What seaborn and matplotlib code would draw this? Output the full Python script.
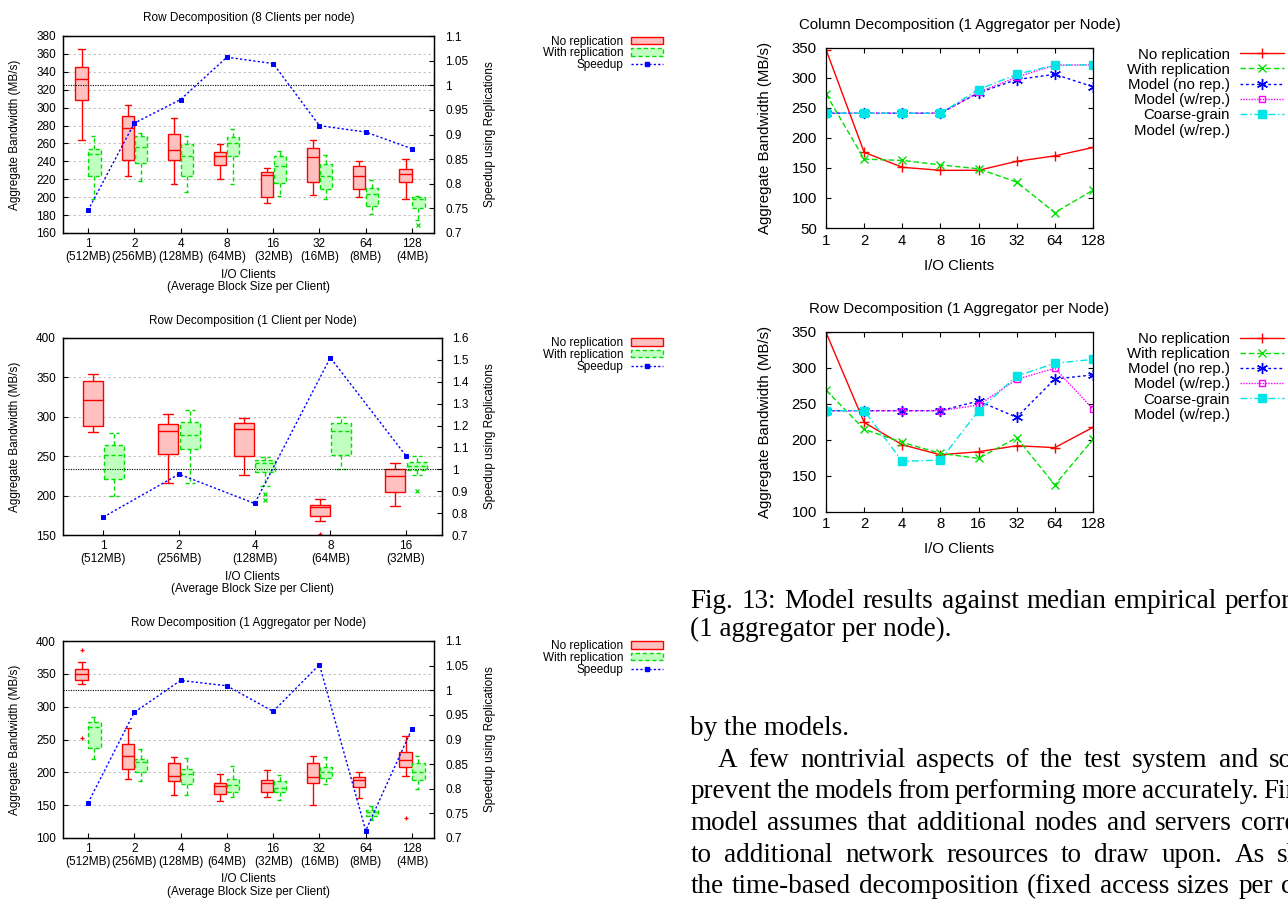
import numpy as np
import pandas as pd
import matplotlib
matplotlib.use("Agg")
import matplotlib.pyplot as plt
import seaborn as sns
from matplotlib.lines import Line2D
from matplotlib.patches import Patch
from matplotlib.ticker import FuncFormatter, FixedLocator, NullLocator

W, H = 1288, 899

# ---------------- data: box-plot charts (left column) ----------------
SERIES = ["No replication", "With replication"]
LAB8 = ["1\n(512MB)", "2\n(256MB)", "4\n(128MB)", "8\n(64MB)",
        "16\n(32MB)", "32\n(16MB)", "64\n(8MB)", "128\n(4MB)"]
LAB5 = ["1\n(512MB)", "2\n(256MB)", "4\n(128MB)", "8\n(64MB)", "16\n(32MB)"]

# (low whisker, Q1, median, Q3, high whisker)
a_norep = [(264, 309, 332, 345, 366), (224, 241, 277, 291, 303), (215, 241.5, 253, 270.5, 288),
           (220, 236, 246, 251, 259), (194, 200.6, 225, 228.5, 232.6), (202, 217, 244.5, 255, 264),
           (200, 209.5, 224, 235, 240), (198, 217, 226, 232, 243)]
a_norep_out = [[], [], [], [], [], [], [], []]
a_rep = [(198, 224, 248, 254, 268), (218, 238.5, 256, 268, 272), (206, 224, 246, 259, 268),
         (215, 245.6, 260, 267.6, 276.5), (201, 215.5, 235, 246, 252), (198, 209, 224, 237.4, 247.5),
         (181, 190.5, 203, 210.6, 219.5), (174, 188, 197.5, 200, 201)]
a_rep_out = [[], [], [], [], [], [], [], [169]]
a_speedup = [0.746, 0.923, 0.971, 1.057, 1.044, 0.918, 0.905, 0.871]

b_norep = [(281, 288, 321, 346, 354), (216, 252.6, 282, 290.6, 303), (225.6, 250, 284.7, 291.5, 298),
           (168.2, 173.5, 186, 187.6, 195.2), (186.7, 204, 224.7, 233.2, 240.8)]
b_norep_out = [[], [], [], [151], []]
b_rep = [(199, 220.5, 251, 263.6, 279), (215.5, 259, 276.7, 293.2, 308), (212, 229.8, 240.8, 245, 249.2),
         (233.6, 252, 282, 292, 300), (226, 232.8, 237.9, 242.5, 249.7)]
b_rep_out = [[], [], [202, 194], [], [205.4]]
b_speedup = [0.782, 0.978, 0.844, 1.510, 1.062]

c_norep = [(334.1, 340.2, 349.3, 357.9, 367.6), (189.7, 204.4, 225.2, 242.4, 268.2),
           (165.9, 187.1, 194.2, 214, 223.1), (156.8, 167.4, 178.5, 183.1, 197.3),
           (162.8, 169.4, 184.1, 187.6, 202.9), (149.7, 184.1, 192.7, 213.5, 224.6),
           (160.8, 178, 188.2, 192.7, 200.3), (194.7, 207.9, 218.6, 231.7, 255.6)]
c_norep_out = [[386.8, 252], [], [], [], [], [], [], [130.9]]
c_rep = [(220.1, 236.3, 268.7, 276.3, 284), (186.6, 200.3, 215, 219.6, 235.3),
         (164.8, 182.6, 197.3, 204.9, 221.1), (162.3, 169.9, 181.1, 189.2, 209.4),
         (157.8, 170.5, 176, 186.1, 195.8), (182.1, 191.2, 200.3, 207.4, 223.1),
         (126.8, 132.9, 139, 143.1, 148.1), (175, 188.2, 200.3, 213.5, 224.6)]
c_rep_out = [[], [], [], [], [], [], [], []]
c_speedup = [0.771, 0.955, 1.020, 1.009, 0.957, 1.052, 0.715, 0.922]

# ---------------- data: model charts (right column) ----------------
CLIENTS = [1, 2, 4, 8, 16, 32, 64, 128]
LINE_SERIES = ["No replication", "With replication", "Model (no rep.)", "Model (w/rep.)", "Coarse-grain"]
col_norep = [347, 176, 151, 146, 146, 161, 170, 184]
col_rep = [273, 164.6, 162.4, 155, 148.5, 126.4, 75.6, 113]
col_model_norep = [241, 241, 241, 241, 275, 297, 305.7, 285]
col_model_rep = [241, 241, 241, 241, 275.8, 301, 321, 321.5]
col_coarse = [241, 241, 241, 241, 280.3, 305.7, 321, 321.5]

row_norep = [349, 224, 193, 179, 183.3, 191.6, 189, 217.2]
row_rep = [269, 214.4, 196.3, 181, 174, 202.8, 137.1, 200.5]
row_model_norep = [240.3, 240.3, 240.3, 240.3, 253.7, 231, 284.3, 290]
row_model_rep = [240.3, 240.3, 240.3, 240.3, 248.1, 283.8, 299.2, 242.6]
row_coarse = [240.3, 240.3, 170, 171.7, 240.3, 288.4, 306.1, 311.6]

# ---------------- style ----------------
RED, GREEN, BLUE, MAG, CYAN = "#ff0000", "#00e000", "#0000ff", "#ff00ff", "#00e5e5"
PINK, LGREEN = "#ffc0c0", "#c0ffc0"
sns.set_theme(style="ticks", rc={"axes.edgecolor": "black", "text.color": "black",
                                 "xtick.color": "black", "ytick.color": "black",
                                 "axes.labelcolor": "black", "axes.linewidth": 0.9})
plt.rcParams["font.family"] = ["Liberation Sans", "DejaVu Sans"]

fig = plt.figure(figsize=(W / 100, H / 100), dpi=100)
fig.patch.set_facecolor("white")


def rect(x0, y0, x1, y1):
    return [x0 / W, 1 - y1 / H, (x1 - x0) / W, (y1 - y0) / H]


def fx(x):
    return x / W


def fy(y):
    return 1 - y / H


def sample(stats, outliers, k=20):
    lo, q1, med, q3, hi = stats
    return [lo] + [q1] * k + [med] * k + [q3] * k + [hi] + list(outliers)


def box_frame(labels, norep, norep_out, rep, rep_out):
    rows = []
    for lab, s, o in zip(labels, norep, norep_out):
        rows += [(lab, SERIES[0], v) for v in sample(s, o)]
    for lab, s, o in zip(labels, rep, rep_out):
        rows += [(lab, SERIES[1], v) for v in sample(s, o)]
    return pd.DataFrame(rows, columns=["clients", "series", "bw"])


def restyle_boxes(ax):
    for p in ax.patches:
        fc = p.get_facecolor()
        red = fc[0] > fc[1]
        p.set_edgecolor(RED if red else GREEN)
        p.set_linestyle("-" if red else (0, (3, 2)))
        p.set_linewidth(1.0)
    for ln in ax.lines:
        xd = np.asarray(ln.get_xdata(), dtype=float)
        if xd.size == 0:
            continue
        c = xd.mean()
        red = (c - np.round(c)) < 0
        col = RED if red else GREEN
        ln.set_color(col)
        if ln.get_linestyle() in ("None", "", " ", "none"):
            ln.set_marker("+" if red else "x")
            ln.set_markeredgecolor(col)
            ln.set_markerfacecolor(col)
            ln.set_markersize(3.5)
            ln.set_markeredgewidth(0.9)
        else:
            ln.set_linestyle("-" if red else (0, (3, 2)))
            ln.set_linewidth(1.0)


FS_L = 8.5


def box_chart(box, title, title_cy, labels, df, speed, ylim, yticks, y2lim, y2ticks,
              xlim, xlab_cy, y2pad, leg_top):
    x0, y0, x1, y1 = box
    ax = fig.add_axes(rect(*box))
    sns.boxplot(data=df, x="clients", y="bw", hue="series", order=labels, hue_order=SERIES,
                palette={SERIES[0]: PINK, SERIES[1]: LGREEN}, saturation=1, width=0.56, gap=0.06,
                whis=1.5, linewidth=1, fliersize=3, legend=False, ax=ax)
    restyle_boxes(ax)
    ax.set_ylim(*ylim)
    ax.set_yticks(yticks)
    ax.yaxis.grid(True, color="#b8b8b8", linestyle=(0, (3, 3)), linewidth=0.6)
    ax.set_axisbelow(True)
    ax.tick_params(axis="both", direction="in", length=3.5, width=0.8, labelsize=FS_L)
    ax.tick_params(axis="y", pad=5)
    ax.tick_params(axis="x", pad=3.5)
    ax.set_xlabel("I/O Clients\n(Average Block Size per Client)", fontsize=FS_L, linespacing=1.1)
    ax.set_ylabel("Aggregate Bandwidth (MB/s)", fontsize=FS_L)
    ax.set_title(title, fontsize=FS_L, y=1 + (y0 - title_cy) / (y1 - y0), va="center", pad=0)

    ax2 = ax.twinx()
    ax2.axhline(1.0, color="black", lw=0.8, ls=(0, (1, 1.2)), zorder=1)
    sns.pointplot(x=labels, y=speed, ax=ax2, color=BLUE, markers="s", linestyles=":",
                  markersize=2.4, linewidth=1, errorbar=None)
    for ln in ax2.lines:
        if ln.get_marker() == "s":
            ln.set_dashes((1.6, 1.6))
    ax2.set_ylim(*y2lim)
    ax2.set_yticks(y2ticks)
    ax2.yaxis.set_major_formatter(FuncFormatter(lambda v, p: f"{v:g}"))
    ax2.tick_params(axis="y", direction="in", length=3.5, width=0.8, labelsize=FS_L, pad=y2pad)
    ax2.set_ylabel("Speedup using Replications", fontsize=FS_L)
    ax.set_xlim(*xlim)

    for t in ax.xaxis.get_major_ticks():
        t.label1.set_linespacing(1.1)

    cy = (y0 + y1) / 2
    ax.yaxis.set_label_coords(fx(15.5), fy(cy), transform=fig.transFigure)
    ax.yaxis.label.set_va("center")
    ax2.yaxis.set_label_coords(fx(490), fy(cy), transform=fig.transFigure)
    ax2.yaxis.label.set_va("center")
    ax.xaxis.set_label_coords(fx((x0 + x1) / 2), fy(xlab_cy), transform=fig.transFigure)
    ax.xaxis.label.set_va("center")

    handles = [Patch(facecolor=PINK, edgecolor=RED, linewidth=1.0),
               Patch(facecolor=LGREEN, edgecolor=GREEN, linewidth=1.0, linestyle=(0, (3, 2))),
               Line2D([], [], color=BLUE, linestyle=(0, (1.6, 1.6)), linewidth=1, marker="s",
                      markersize=2.4)]
    fig.legend(handles, ["No replication", "With replication", "Speedup"], loc="upper right",
               bbox_to_anchor=(fx(663), fy(leg_top)), bbox_transform=fig.transFigure,
               frameon=False, borderpad=0, borderaxespad=0, markerfirst=False,
               handlelength=2.7, handleheight=0.6, handletextpad=0.65, labelspacing=-0.01,
               fontsize=FS_L)
    return ax, ax2


box_chart((63, 36, 434, 233), "Row Decomposition (8 Clients per node)", 17.7, LAB8,
          box_frame(LAB8, a_norep, a_norep_out, a_rep, a_rep_out), a_speedup,
          (160, 380), list(range(160, 381, 20)), (0.7, 1.1),
          [0.7, 0.75, 0.8, 0.85, 0.9, 0.95, 1.0, 1.05, 1.1], (-0.54, 7.475), 281, 8, 35.5)

box_chart((63, 338, 442, 535), "Row Decomposition (1 Client per Node)", 321, LAB5,
          box_frame(LAB5, b_norep, b_norep_out, b_rep, b_rep_out), b_speedup,
          (150, 400), list(range(150, 401, 50)), (0.7, 1.6),
          [0.7, 0.8, 0.9, 1.0, 1.1, 1.2, 1.3, 1.4, 1.5, 1.6], (-0.533, 4.476), 583, 7.2, 337)

box_chart((63, 641, 434, 838), "Row Decomposition (1 Aggregator per Node)", 623, LAB8,
          box_frame(LAB8, c_norep, c_norep_out, c_rep, c_rep_out), c_speedup,
          (100, 400), list(range(100, 401, 50)), (0.7, 1.1),
          [0.7, 0.75, 0.8, 0.85, 0.9, 0.95, 1.0, 1.05, 1.1], (-0.54, 7.475), 885.5, 8, 640)

# ---------------- model charts ----------------
FS_R = 10.8
LINE_STYLE = {
    "No replication": dict(color=RED, marker="+", ls="-", ms=7, mfc=RED),
    "With replication": dict(color=GREEN, marker="x", ls=(0, (4, 2)), ms=6, mfc=GREEN),
    "Model (no rep.)": dict(color=BLUE, marker=(6, 2, 0), ls=(0, (2, 2)), ms=8, mfc=BLUE),
    "Model (w/rep.)": dict(color=MAG, marker="s", ls=(0, (1, 1)), ms=5, mfc="none"),
    "Coarse-grain": dict(color=CYAN, marker="s", ls=(0, (5, 2, 1, 2)), ms=5.5, mfc=CYAN),
}


def line_chart(box, title, title_cy, series_vals, ylim, yticks, xlab_cy, leg_top):
    x0, y0, x1, y1 = box
    ax = fig.add_axes(rect(*box))
    for name, vals in zip(LINE_SERIES, series_vals):
        st = LINE_STYLE[name]
        sns.lineplot(x=CLIENTS, y=vals, ax=ax, label=name, color=st["color"], marker=st["marker"],
                     linestyle=st["ls"], linewidth=1.0, markersize=st["ms"],
                     markeredgecolor=st["color"], markerfacecolor=st["mfc"], markeredgewidth=1.0)
    if ax.get_legend() is not None:
        ax.get_legend().remove()
    ax.set_xscale("log", base=2)
    ax.set_xlim(1, 128)
    ax.xaxis.set_major_locator(FixedLocator(CLIENTS))
    ax.xaxis.set_major_formatter(FuncFormatter(lambda v, p: f"{int(round(v))}"))
    ax.xaxis.set_minor_locator(NullLocator())
    ax.set_ylim(*ylim)
    ax.set_yticks(yticks)
    ax.tick_params(axis="both", direction="in", length=3.6, width=0.8, labelsize=FS_R,
                   top=True, right=True)
    ax.tick_params(axis="y", pad=6.5)
    ax.tick_params(axis="x", pad=4)
    ax.set_xlabel("I/O Clients", fontsize=FS_R)
    ax.set_ylabel("Aggregate Bandwidth (MB/s)", fontsize=FS_R)
    ax.set_title(title, fontsize=FS_R, y=1 + (y0 - title_cy) / (y1 - y0), va="center", pad=0)
    ax.yaxis.set_label_coords(fx(765), fy((y0 + y1) / 2), transform=fig.transFigure)
    ax.yaxis.label.set_va("center")
    ax.xaxis.set_label_coords(fx((x0 + x1) / 2), fy(xlab_cy), transform=fig.transFigure)
    ax.xaxis.label.set_va("center")

    handles, labels = ax.get_legend_handles_labels()
    handles.append(Line2D([], [], linestyle="none"))
    labels.append("Model (w/rep.)")
    fig.legend(handles, labels, loc="upper right", bbox_to_anchor=(fx(1284), fy(leg_top)),
               bbox_transform=fig.transFigure, frameon=False, borderpad=0, borderaxespad=0,
               markerfirst=False, handlelength=2.93, handletextpad=0.67, labelspacing=0.08,
               fontsize=FS_R)
    return ax


line_chart((826, 47.7, 1093, 228), "Column Decomposition (1 Aggregator per Node)", 25,
           [col_norep, col_rep, col_model_norep, col_model_rep, col_coarse],
           (50, 350), list(range(50, 351, 50)), 266, 47.5)
line_chart((826, 331.7, 1093, 511.7), "Row Decomposition (1 Aggregator per Node)", 309,
           [row_norep, row_rep, row_model_norep, row_model_rep, row_coarse],
           (100, 350), list(range(100, 351, 50)), 549.3, 331.8)

# ---------------- caption and body text ----------------
SERIF = ["Liberation Serif", "DejaVu Serif"]
FS_T = 19.5
renderer = fig.canvas.get_renderer()


def text_line(words, x0, y_center, x_last=None):
    base = y_center + 6.5
    if x_last is None:
        fig.text(fx(x0), fy(base), " ".join(words), family=SERIF, fontsize=FS_T, va="baseline",
                 ha="left")
        return
    ts = [fig.text(0, 0, w, family=SERIF, fontsize=FS_T, va="baseline", ha="left") for w in words]
    widths = [t.get_window_extent(renderer).width for t in ts]
    gap = (x_last - x0 - sum(widths[:-1])) / (len(words) - 1)
    x = x0
    for t, w in zip(ts, widths):
        t.set_position((fx(x), fy(base)))
        x += w + gap


text_line("Fig. 13: Model results against median empirical performance".split(), 690.5, 601.7, 1224.6)
text_line("(1 aggregator per node).".split(), 690.5, 630)
text_line("by the models.".split(), 690.5, 728.3)
text_line("A few nontrivial aspects of the test system and some".split(), 717.6, 760.7, 1269)
text_line("prevent the models from performing more accurately. First,".split(), 690.5, 791.7, 1263)
text_line("model assumes that additional nodes and servers correspond".split(), 690.5, 823.3, 1241)
text_line("to additional network resources to draw upon. As shown".split(), 690.5, 856, 1277)
text_line("the time-based decomposition (fixed access sizes per client)".split(), 690.5, 886.7, 1281)

fig.savefig("out.png", dpi=100, facecolor="white")
